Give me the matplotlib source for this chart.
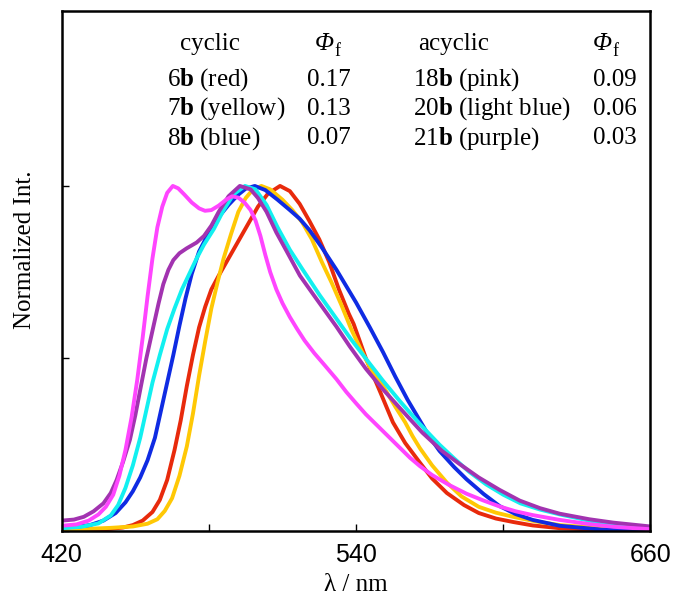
"""Normalized emission spectra of cyclic and acyclic b compounds."""

import matplotlib

matplotlib.use("Agg")

import matplotlib.pyplot as plt  # noqa: E402
from matplotlib.ticker import FixedLocator, NullFormatter  # noqa: E402


# 6b (red)
RED_NM = [420, 430, 440, 445, 449, 453, 457, 460, 463, 466, 468.5, 471, 473.5,
          476, 478.5, 481, 484, 488, 492, 496, 500, 504, 509, 513, 517, 521, 525,
          529, 533, 537, 539, 544, 547.6, 550, 555, 560, 566, 571, 577, 584, 590,
          597, 604, 612, 623, 640, 660]
RED_INT = [0.0, 0.002, 0.006, 0.010, 0.017, 0.030, 0.055, 0.09, 0.148, 0.235, 0.32,
           0.42, 0.51, 0.59, 0.65, 0.70, 0.74, 0.79, 0.84, 0.89, 0.94, 0.977, 1.0,
           0.985, 0.948, 0.898, 0.845, 0.78, 0.70, 0.63, 0.60, 0.50, 0.44, 0.40,
           0.315, 0.255, 0.198, 0.152, 0.11, 0.075, 0.052, 0.036, 0.026, 0.016,
           0.008, 0.003, 0.0]

# 7b (yellow)
YELLOW_NM = [420, 430, 440, 449, 455, 459, 462, 465, 468, 471, 473.5, 476, 478.5,
             481, 483.5, 486, 489, 492, 495, 498, 501.4, 505, 510, 514, 518, 522,
             526, 530, 534, 538, 542, 546, 551, 556, 560, 563, 566, 571, 577, 583,
             590, 597, 604, 613, 623, 640, 660]
YELLOW_INT = [0.004, 0.006, 0.009, 0.013, 0.021, 0.034, 0.058, 0.095, 0.16, 0.245,
              0.34, 0.45, 0.55, 0.645, 0.72, 0.79, 0.86, 0.925, 0.965, 0.99, 1.0,
              0.99, 0.96, 0.93, 0.895, 0.845, 0.78, 0.72, 0.655, 0.585, 0.525, 0.47,
              0.42, 0.36, 0.315, 0.275, 0.24, 0.19, 0.14, 0.10, 0.07, 0.053, 0.041,
              0.028, 0.017, 0.008, 0.003]

# 8b (blue)
BLUE_NM = [420, 426, 431.5, 437, 442, 446, 449, 452, 455, 458, 460.5, 463, 465.5,
           468, 470.5, 473, 476, 480, 484, 488, 492, 495, 498.7, 503, 508, 513, 517,
           521, 526, 532, 540, 545.6, 551, 556, 561, 566, 570, 574, 580, 585, 592,
           598.5, 605, 612, 623, 640, 660]
BLUE_INT = [0.010, 0.012, 0.017, 0.03, 0.052, 0.083, 0.115, 0.155, 0.205, 0.27, 0.35,
            0.43, 0.51, 0.595, 0.675, 0.745, 0.81, 0.865, 0.91, 0.945, 0.975, 0.992,
            1.0, 0.988, 0.96, 0.93, 0.905, 0.872, 0.822, 0.757, 0.662, 0.590, 0.518,
            0.447, 0.38, 0.32, 0.272, 0.232, 0.185, 0.15, 0.107, 0.072, 0.049,
            0.032, 0.015, 0.004, 0.001]

# 18b (pink)
PINK_NM = [420, 426, 431, 435, 438, 441, 443.5, 446, 448.5, 450.8, 453, 455, 457,
           459, 461, 463, 465.3, 467.5, 470, 473, 476, 478.4, 481, 484, 487, 489.5,
           492, 494.5, 497, 499, 501, 503, 505, 507.5, 510, 513, 516, 519, 523, 527,
           532, 536, 540, 544, 548, 553, 558, 562, 566, 571, 578, 585, 592, 598.5,
           605, 612, 623, 635, 645, 660]
PINK_INT = [0.015, 0.019, 0.03, 0.048, 0.07, 0.105, 0.16, 0.235, 0.33, 0.438, 0.56,
            0.68, 0.79, 0.88, 0.94, 0.98, 1.0, 0.993, 0.975, 0.952, 0.935, 0.928,
            0.93, 0.943, 0.96, 0.97, 0.966, 0.952, 0.93, 0.90, 0.855, 0.80, 0.75,
            0.70, 0.66, 0.62, 0.585, 0.552, 0.515, 0.482, 0.44, 0.403, 0.37, 0.338,
            0.31, 0.275, 0.24, 0.212, 0.188, 0.162, 0.133, 0.108, 0.088, 0.071,
            0.057, 0.046, 0.032, 0.02, 0.012, 0.005]

# 20b (light blue)
CYAN_NM = [420, 428, 435, 440, 443, 446, 449, 452, 454.5, 457, 460, 463, 466, 469,
           472, 475, 478, 482, 486, 490, 494.7, 499, 503.5, 508, 513, 518, 525, 532,
           538, 545, 551, 558, 566, 574, 580, 586, 593, 600, 607, 615, 623, 635, 645,
           660]
CYAN_INT = [0.008, 0.012, 0.022, 0.045, 0.075, 0.125, 0.19, 0.27, 0.35, 0.43, 0.51,
            0.585, 0.645, 0.70, 0.745, 0.79, 0.83, 0.875, 0.93, 0.975, 1.0, 0.99,
            0.945, 0.88, 0.815, 0.76, 0.685, 0.615, 0.555, 0.49, 0.435, 0.375, 0.31,
            0.25, 0.21, 0.172, 0.135, 0.105, 0.08, 0.062, 0.048, 0.03, 0.018, 0.006]

# 21b (purple)
PURPLE_NM = [420, 425, 429, 433, 437, 440, 442.4, 445, 447.8, 450, 451.9, 454.5,
             457.3, 459.5, 461.4, 463.5, 465.5, 468, 470.9, 475, 478, 481, 484, 488,
             492.6, 497, 500, 503.5, 507.5, 511.6, 517.1, 523.9, 532, 537.4, 544,
             551, 558, 567, 575, 582, 590, 598.5, 606.7, 615, 623, 635, 645, 660]
PURPLE_INT = [0.030, 0.033, 0.041, 0.057, 0.08, 0.11, 0.148, 0.20, 0.264, 0.335,
              0.405, 0.50, 0.59, 0.66, 0.715, 0.757, 0.785, 0.805, 0.819, 0.836,
              0.855, 0.885, 0.925, 0.97, 1.0, 0.99, 0.965, 0.925, 0.865, 0.812,
              0.74, 0.672, 0.592, 0.535, 0.47, 0.41, 0.355, 0.285, 0.232, 0.195,
              0.155, 0.119, 0.088, 0.066, 0.05, 0.034, 0.024, 0.013]

CYCLIC_LABELS = ["6$\\mathbf{b}$ (red)", "7$\\mathbf{b}$ (yellow)", "8$\\mathbf{b}$ (blue)"]
CYCLIC_PHI = ["0.17", "0.13", "0.07"]
ACYCLIC_LABELS = ["18$\\mathbf{b}$ (pink)", "20$\\mathbf{b}$ (light blue)",
                  "21$\\mathbf{b}$ (purple)"]
ACYCLIC_PHI = ["0.09", "0.06", "0.03"]

X_MAJOR = [420, 540, 660]
X_MINOR = [480, 600]
Y_TICKS = [0.0, 0.5, 1.0]

SERIES = (
    (RED_NM, RED_INT, "#E82A0C"),
    (YELLOW_NM, YELLOW_INT, "#FFC805"),
    (BLUE_NM, BLUE_INT, "#0F2BE3"),
    (CYAN_NM, CYAN_INT, "#12F0F0"),
    (PURPLE_NM, PURPLE_INT, "#A233B0"),
    (PINK_NM, PINK_INT, "#FF45FF"),
)


def _phi_header(ax: plt.Axes, x: float, y: float, size: float) -> None:
    ax.text(x, y, "Φ", transform=ax.transAxes, fontsize=size, style="italic")
    ax.annotate("f", xy=(x, y), xycoords="axes fraction", xytext=(14, -4),
                textcoords="offset points", fontsize=size * 0.72)


def _table(ax: plt.Axes) -> None:
    size = 18
    row_y = (0.856, 0.800, 0.744)
    ax.text(0.201, 0.925, "cyclic", transform=ax.transAxes, fontsize=size)
    _phi_header(ax, 0.430, 0.925, size)
    ax.text(0.605, 0.925, "acyclic", transform=ax.transAxes, fontsize=size)
    _phi_header(ax, 0.902, 0.925, size)
    for y, lab, phi in zip(row_y, CYCLIC_LABELS, CYCLIC_PHI):
        ax.text(0.179, y, lab, transform=ax.transAxes, fontsize=size)
        ax.text(0.417, y, phi, transform=ax.transAxes, fontsize=size)
    for y, lab, phi in zip(row_y, ACYCLIC_LABELS, ACYCLIC_PHI):
        ax.text(0.597, y, lab, transform=ax.transAxes, fontsize=size)
        ax.text(0.902, y, phi, transform=ax.transAxes, fontsize=size)


def main() -> None:
    plt.rcParams["font.family"] = ["Liberation Serif", "DejaVu Serif"]
    plt.rcParams["mathtext.fontset"] = "custom"
    plt.rcParams["mathtext.rm"] = "Liberation Serif"
    plt.rcParams["mathtext.it"] = "Liberation Serif:italic"
    plt.rcParams["mathtext.bf"] = "Liberation Serif:bold"

    fig = plt.figure(figsize=(6.75, 6.02), dpi=100)
    ax = fig.add_axes((0.0914, 0.118, 0.8723, 0.8637))

    for nm, intensity, color in SERIES:
        ax.plot(nm, intensity, color=color, linewidth=2.8, solid_joinstyle="round")

    ax.set_xlim(420, 660)
    ax.set_ylim(0, 1.507)
    ax.xaxis.set_major_locator(FixedLocator(X_MAJOR))
    ax.xaxis.set_minor_locator(FixedLocator(X_MINOR))
    ax.xaxis.set_minor_formatter(NullFormatter())
    ax.yaxis.set_major_locator(FixedLocator(Y_TICKS))
    ax.yaxis.set_major_formatter(NullFormatter())
    ax.tick_params(axis="both", which="both", direction="in", length=5, width=1.0,
                   top=False, right=False)
    ax.tick_params(axis="x", pad=9)
    for label in ax.get_xticklabels():
        label.set_family("Liberation Sans")
        label.set_fontsize(18)
    for spine in ax.spines.values():
        spine.set_linewidth(1.8)

    ax.set_xlabel("λ / nm", fontsize=18, labelpad=5)
    ax.set_ylabel("Normalized Int.", fontsize=18)
    ax.yaxis.set_label_coords(-0.044, 0.54)

    _table(ax)

    fig.savefig("out.png", dpi=100, facecolor="white")
    plt.close(fig)


if __name__ == "__main__":
    main()
